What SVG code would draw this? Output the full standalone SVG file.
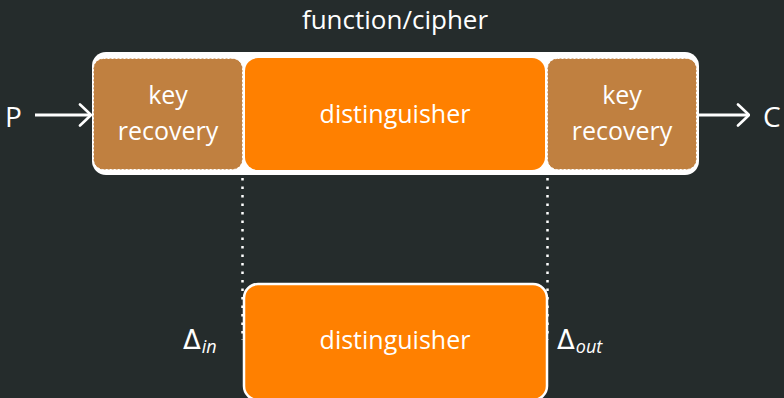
<svg xmlns="http://www.w3.org/2000/svg" width="784" height="398" viewBox="0 0 784 398">
  <style>
    .t { font-family: "Open Sans", "Noto Sans", "DejaVu Sans", sans-serif; fill: #ffffff; }
    .greek { font-family: "DejaVu Sans", "Noto Sans", sans-serif; }
    .kr { fill: #c08040; stroke: #ffffff; stroke-width: 1; stroke-dasharray: 2 2; }
    .dist { fill: #ff8000; }
    .wire { stroke: #ffffff; stroke-width: 3; fill: none; }
    .dots { stroke: #ffffff; stroke-width: 2.5; stroke-dasharray: 2.5 6; fill: none; }
  </style>
  <defs>
    <marker id="head" viewBox="0 0 14 24" refX="13" refY="12" markerWidth="14" markerHeight="24" markerUnits="userSpaceOnUse" orient="auto">
      <path d="M2,1.5 Q9,8 13,12 Q9,16 2,22.5" fill="none" stroke="#ffffff" stroke-width="2.6" stroke-linecap="round"/>
    </marker>
  </defs>
  <rect width="784" height="398" fill="#252c2c"/>

  <text class="t" x="395" y="29" font-size="26" text-anchor="middle">function/cipher</text>

  <g id="cipher-frame">
    <rect x="92" y="52" width="607" height="123" rx="14" fill="#ffffff"/>
  </g>

  <g id="key-recovery-in">
    <rect class="kr" x="93.5" y="58.5" width="149" height="111" rx="10"/>
    <text class="t" x="168" y="104" font-size="25" text-anchor="middle">key</text>
    <text class="t" x="168" y="140" font-size="25" text-anchor="middle">recovery</text>
  </g>

  <g id="distinguisher-top">
    <rect class="dist" x="245" y="58" width="300" height="112" rx="13"/>
    <text class="t" x="395" y="123" font-size="25" text-anchor="middle">distinguisher</text>
  </g>

  <g id="key-recovery-out">
    <rect class="kr" x="547.5" y="58.5" width="149" height="111" rx="10"/>
    <text class="t" x="622" y="104" font-size="25" text-anchor="middle">key</text>
    <text class="t" x="622" y="140" font-size="25" text-anchor="middle">recovery</text>
  </g>

  <g id="distinguisher-bottom">
    <rect x="244" y="284" width="303" height="116" rx="14" fill="#ff8000" stroke="#ffffff" stroke-width="2.5"/>
    <text class="t" x="395" y="349" font-size="25" text-anchor="middle">distinguisher</text>
  </g>

  <g id="plaintext">
    <text class="t" x="5" y="127" font-size="28">P</text>
  </g>
  <g id="ciphertext">
    <text class="t" x="763" y="127" font-size="28">C</text>
  </g>

  <g id="delta-in">
    <text class="t" x="183" y="349" font-size="26"><tspan class="greek">Δ</tspan><tspan font-size="18" font-style="italic" dy="4" dx="1">in</tspan></text>
  </g>
  <g id="delta-out">
    <text class="t" x="557" y="349" font-size="26"><tspan class="greek">Δ</tspan><tspan font-size="18" font-style="italic" dy="4" dx="1">out</tspan></text>
  </g>

  <g id="connectors">
    <line class="wire" x1="35" y1="115" x2="91" y2="115" marker-end="url(#head)"/>
    <line class="wire" x1="699" y1="115" x2="749" y2="115" marker-end="url(#head)"/>
    <line class="dots" x1="242.5" y1="178" x2="242.5" y2="340"/>
    <line class="dots" x1="547.5" y1="178" x2="547.5" y2="340"/>
  </g>
</svg>
